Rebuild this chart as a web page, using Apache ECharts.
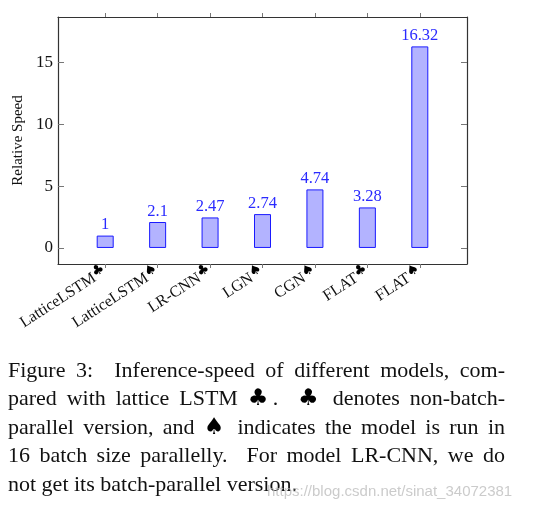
<!DOCTYPE html>
<html>
<head>
<meta charset="utf-8">
<script src="https://cdn.jsdelivr.net/npm/echarts@6/dist/echarts.min.js"></script>
<style>
  body { margin: 0; background: #fff; }
  #chart { position: absolute; left: 0; top: 0; width: 545px; height: 511px; }
  #caption {
    position: absolute; left: 8px; top: 356px; width: 497px;
    font-family: "Liberation Serif", serif; font-size: 22px; line-height: 28.4px; color: #111;
  }
  #caption .ln { text-align: justify; text-align-last: justify; }
  #caption .ln.last { text-align-last: left; }
  #caption .sym { font-family: "DejaVu Sans", sans-serif; font-size: 23px; line-height: 20px; font-weight: bold; color: #000; }
  #mark {
    position: absolute; left: 267px; top: 482px;
    font-family: "Liberation Sans", sans-serif; font-size: 15px; color: rgba(185,185,185,0.75);
  }
</style>
</head>
<body>
<div id="chart"></div>
<div id="caption">
  <div class="ln">Figure 3:&nbsp; Inference-speed of different models, com-</div>
  <div class="ln">pared with lattice LSTM <span class="sym">♣</span>.&nbsp; <span class="sym">♣</span> denotes non-batch-</div>
  <div class="ln">parallel version, and <span class="sym">♠</span> indicates the model is run in</div>
  <div class="ln">16 batch size parallelly.&nbsp; For model LR-CNN, we do</div>
  <div class="ln last">not get its batch-parallel version.</div>
</div>
<div id="mark">https://blog.csdn.net/sinat_34072381</div>
<script>
const models = ['LatticeLSTM', 'LatticeLSTM', 'LR-CNN', 'LGN', 'CGN', 'FLAT', 'FLAT'];
const marks = ['♣', '♠', '♣', '♠', '♠', '♣', '♠'];
const speeds = [1, 2.1, 2.47, 2.74, 4.74, 3.28, 16.32];
const yTicks = [0, 5, 10, 15];

const serif = 'Liberation Serif';
const idx = models.map((m, i) => i);
const frame = { show: true, onZero: false, lineStyle: { color: '#333', width: 1.2 } };
const tickStyle = { color: '#777', width: 1 };

const chart = echarts.init(document.getElementById('chart'));

chart.setOption({
  animation: false,
  grid: { left: 58, right: 78, top: 17, bottom: 247 },
  xAxis: [
    {
      type: 'value', min: -0.9, max: 6.9, position: 'bottom',
      axisLine: frame,
      splitLine: { show: false },
      axisTick: { show: true, customValues: idx, length: 4, lineStyle: tickStyle },
      axisLabel: {
        customValues: idx, rotate: 33, margin: 6,
        formatter: v => '{n|' + models[v] + '}{s|' + marks[v] + '}',
        rich: {
          n: { fontFamily: serif, fontSize: 16, color: '#111', lineHeight: 20 },
          s: { fontFamily: 'DejaVu Sans', fontSize: 14, fontWeight: 'bold', color: '#000', verticalAlign: 'top', lineHeight: 12 }
        }
      }
    },
    {
      type: 'value', min: -0.9, max: 6.9, position: 'top',
      axisLine: frame,
      splitLine: { show: false },
      axisTick: { show: true, customValues: idx, length: 4, lineStyle: tickStyle },
      axisLabel: { show: false }
    }
  ],
  yAxis: [
    {
      type: 'value', min: -1.3, max: 18.7, position: 'left',
      name: 'Relative Speed', nameLocation: 'middle', nameGap: 27,
      nameTextStyle: { fontFamily: serif, fontSize: 15, color: '#111' },
      axisLine: frame,
      splitLine: { show: false },
      axisTick: { show: true, inside: true, length: 6, customValues: yTicks, lineStyle: tickStyle },
      axisLabel: { customValues: yTicks, margin: 5, fontFamily: serif, fontSize: 17, color: '#111' }
    },
    {
      type: 'value', min: -1.3, max: 18.7, position: 'right',
      axisLine: frame,
      splitLine: { show: false },
      axisTick: { show: true, inside: true, length: 6, customValues: yTicks, lineStyle: tickStyle },
      axisLabel: { show: false }
    }
  ],
  series: [{
    type: 'bar',
    xAxisIndex: 0,
    yAxisIndex: 0,
    barWidth: 17,
    data: speeds.map((v, i) => [i, v]),
    itemStyle: { color: '#b3b3ff', borderColor: '#1a1aff', borderWidth: 1 },
    label: {
      show: true, position: 'top', distance: 2,
      fontFamily: serif, fontSize: 16.5, color: '#2a2aff',
      formatter: p => p.value[1]
    }
  }]
});
</script>
</body>
</html>
